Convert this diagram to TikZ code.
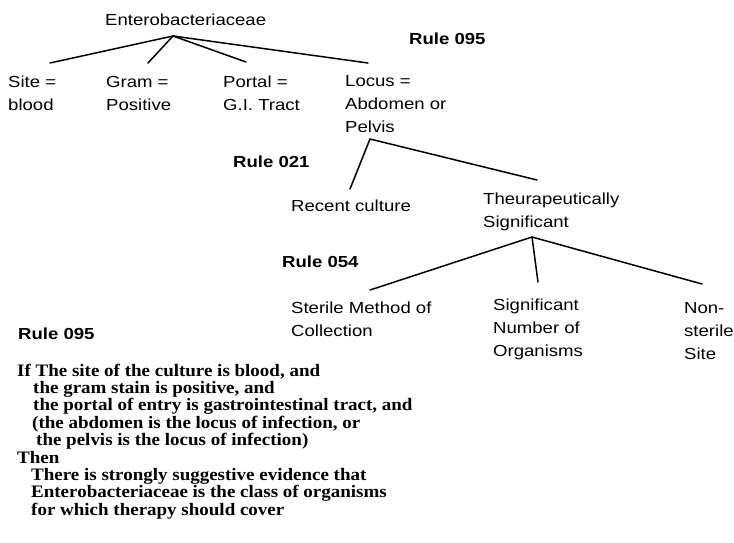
\documentclass[tikz,border=0pt]{standalone}
\usepackage{fontspec}
\setmainfont{Liberation Sans}[FakeStretch=1.16]
\newfontfamily\rulefont{Liberation Serif}[FakeStretch=1.085]
\newcommand\mlines[2]{\vtop{\baselineskip=#1\lineskiplimit=-30pt\halign{##\hfil\cr#2\crcr}}}
\tikzset{
  lbl/.style={anchor=base west, inner sep=0pt, font=\fontsize{16}{23}\selectfont},
  rulehead/.style={anchor=base west, inner sep=0pt, font=\fontsize{16}{23}\selectfont\bfseries},
  ruletext/.style={anchor=base west, inner sep=0pt, font=\rulefont\bfseries\fontsize{17.5}{17.4}\selectfont},
  edge/.style={line width=1.5pt, line cap=round}
}
\begin{document}
\begin{tikzpicture}[x=1pt,y=-1pt]
\fill[white] (0,0) rectangle (734,542);
\useasboundingbox (0,0) rectangle (734,542);

% tree level 1
\node[lbl] (entero) at (105,25) {Enterobacteriaceae};
\node[rulehead] (r095a) at (409,44) {Rule 095};
\coordinate (j1) at (173,36);
\coordinate (e1a) at (50,63);
\coordinate (e1b) at (148,63);
\coordinate (e1c) at (246,62);
\coordinate (e1d) at (368,63);
\draw[edge] (e1a) -- (j1) -- (e1b);
\draw[edge] (j1) -- (e1c);
\draw[edge] (j1) -- (e1d);
\node[lbl] (site) at (8,87) {\mlines{23pt}{Site =\cr blood}};
\node[lbl] (gram) at (106,87) {\mlines{23pt}{Gram =\cr Positive}};
\node[lbl] (portal) at (223,87) {\mlines{23pt}{Portal =\cr G.I. Tract}};
\node[lbl] (locus) at (345,86) {\mlines{23pt}{Locus =\cr Abdomen or\cr Pelvis}};

% tree level 2
\node[rulehead] (r021) at (233,167) {Rule 021};
\coordinate (j2) at (370,139);
\coordinate (e2a) at (350,189);
\coordinate (e2b) at (537,180);
\draw[edge] (e2a) -- (j2) -- (e2b);
\node[lbl] (recent) at (291,211) {Recent culture};
\node[lbl] (theur) at (483,204) {\mlines{23pt}{Theurapeutically\cr Significant}};

% tree level 3
\node[rulehead] (r054) at (282,267) {Rule 054};
\coordinate (j3) at (532,237);
\coordinate (e3a) at (370,290);
\coordinate (e3b) at (538,282);
\coordinate (e3c) at (702,284);
\draw[edge] (e3a) -- (j3) -- (e3c);
\draw[edge] (j3) -- (e3b);
\node[lbl] (sterile) at (291,313) {\mlines{23pt}{Sterile Method of\cr Collection}};
\node[lbl] (signum) at (493,310) {\mlines{23pt}{Significant\cr Number of\cr Organisms}};
\node[lbl] (nonst) at (684,313) {\mlines{23pt}{Non-\cr sterile\cr Site}};

% rule text
\node[rulehead] (r095b) at (18,339) {Rule 095};
\node[ruletext] (rule) at (17,376) {\mlines{17.4pt}{%
If The site of the culture is blood, and\cr
\hskip16pt the gram stain is positive, and\cr
\hskip16pt the portal of entry is gastrointestinal tract, and\cr
\hskip15pt (the abdomen is the locus of infection, or\cr
\hskip19pt the pelvis is the locus of infection)\cr
Then\cr
\hskip14pt There is strongly suggestive evidence that\cr
\hskip14pt Enterobacteriaceae is the class of organisms\cr
\hskip14pt for which therapy should cover}};
\end{tikzpicture}
\end{document}
